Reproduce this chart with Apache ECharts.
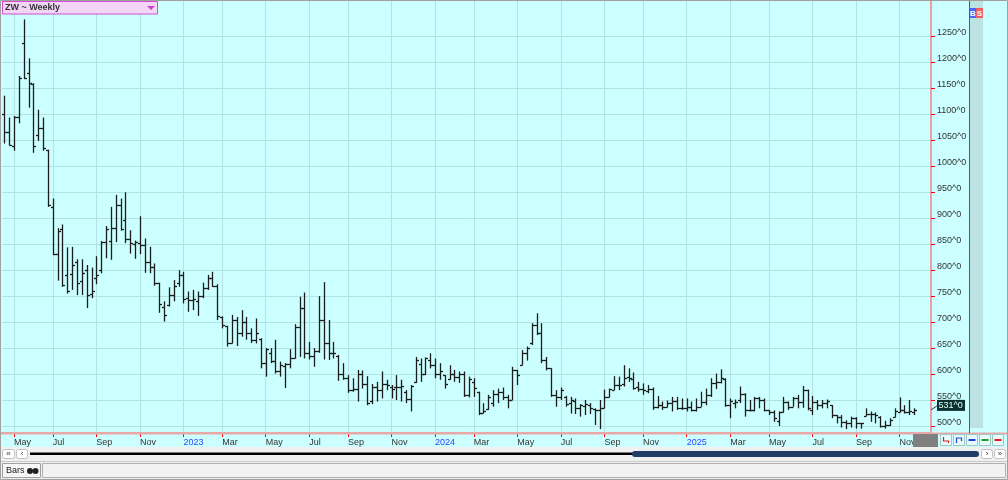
<!DOCTYPE html>
<html><head><meta charset="utf-8">
<script src="https://cdn.jsdelivr.net/npm/echarts@6/dist/echarts.min.js"></script>
<style>html,body{margin:0;padding:0;background:#fff;overflow:hidden}#c{width:1008px;height:480px}</style>
</head><body><div id="c"></div>
<script>
// ---- data (weekly bars, week ending Friday) ----
const firstWeek = '2022-04-22';
const weekCount = 192;
const opens = [
1100,1067,1040,1095,1237,1180,1159,1060,1073,1031,
922,832,880,790,792,815,780,800,755,785,
800,855,856,881,926,897,860,850,852,848,
815,806,775,730,733,752,775,790,746,742,
740,750,765,785,770,710,693,660,705,680,
700,680,665,668,622,640,625,605,615,620,
630,690,727,640,635,645,705,660,640,635,
600,593,570,572,600,580,548,575,570,580,
575,575,575,565,552,585,620,600,628,617,
600,598,590,600,595,600,560,585,566,525,
533,545,561,565,556,550,608,618,640,660,
694,680,628,611,560,556,556,545,548,535,
538,540,532,530,534,556,570,578,580,595,
590,575,572,568,572,537,540,537,544,548,
534,534,537,531,537,547,560,582,585,590,
540,545,550,561,530,531,553,550,530,527,
510,526,547,537,553,547,570,530,547,540,
545,540,521,518,508,505,515,505,520,524,
523,518,500,502,517,527,530,527,527];
const highs = [
1136,1094,1097,1174,1283,1208,1160,1109,1094,1032,
938,881,888,844,845,821,821,810,805,827,
856,885,922,945,938,950,877,857,904,861,
845,813,776,740,767,781,800,797,759,762,
759,776,791,797,773,711,693,714,710,723,
710,688,707,669,650,650,666,624,621,648,
696,749,757,662,650,750,777,704,662,637,
621,598,592,608,607,596,581,585,605,589,
579,598,589,569,579,633,630,632,640,630,
621,598,617,608,605,605,595,592,566,544,
560,569,572,574,560,614,608,646,653,698,
717,698,633,611,569,574,558,556,553,542,
550,544,534,550,570,572,596,595,617,611,
603,585,582,579,574,558,547,549,556,556,
553,553,547,553,566,572,592,601,609,592,
553,551,576,563,550,556,556,553,531,530,
528,556,547,556,560,577,570,558,550,550,
551,540,521,521,511,518,517,506,534,528,
526,519,510,515,534,555,540,550,534];
const lows = [
1044,1040,1030,1083,1168,1113,1026,1049,1030,922,
829,780,768,755,762,752,752,727,746,773,
794,823,820,854,876,852,832,822,831,795,
794,770,718,701,730,740,768,736,720,723,
712,746,762,768,704,688,653,659,654,672,
666,660,659,611,595,621,601,595,573,611,
630,633,630,628,614,641,628,627,630,587,
589,564,566,547,572,540,542,547,553,569,
553,550,547,544,528,583,585,598,611,592,
589,572,589,585,583,556,555,556,521,524,
531,537,544,550,534,550,579,617,626,656,
675,621,607,556,537,550,537,524,523,518,
521,523,502,494,534,555,569,569,576,585,
570,566,560,563,531,534,531,536,528,531,
531,528,528,528,537,540,556,571,582,537,
515,534,544,518,528,528,534,528,521,508,
500,526,531,537,534,535,530,521,531,534,
534,515,505,497,494,497,495,495,519,508,
505,497,495,500,517,526,524,521,521];
const closes = [
1067,1042,1095,1170,1170,1160,1040,1073,1035,925,
832,876,772,760,810,775,795,752,760,790,
855,880,881,925,880,860,852,855,848,816,
806,775,735,714,752,770,790,745,742,745,
750,765,785,770,712,695,660,705,680,700,
680,665,680,622,648,625,605,617,620,630,
690,727,640,635,645,705,660,640,640,600,
593,570,572,600,580,545,575,570,580,578,
572,575,577,552,577,628,600,630,617,600,
605,580,600,595,600,560,590,574,525,528,
555,561,565,556,550,608,598,640,650,694,
680,628,611,560,556,569,542,550,535,540,
542,534,531,534,556,572,579,579,592,592,
574,572,569,572,537,540,537,544,548,534,
534,537,531,537,547,560,582,585,592,540,
548,547,561,530,531,553,550,531,527,515,
526,547,537,553,547,570,535,547,540,545,
548,521,518,508,505,515,505,505,524,523,
521,500,502,511,528,530,527,528,531];
const priceTicks = [500,550,600,650,700,750,800,850,900,950,1000,1050,1100,1150,1200,1250];
const monthNames = ['Jan','Feb','Mar','Apr','May','Jun','Jul','Aug','Sep','Oct','Nov','Dec'];
const titleText = 'ZW ~ Weekly';

// ---- derived ----
const weekDates = [];
{
  const t0 = Date.parse(firstWeek + 'T00:00:00Z');
  for (let i = 0; i < weekCount; i++) weekDates.push(new Date(t0 + i * 7 * 86400000).toISOString().slice(0, 10));
}
const ohlc = opens.map((o, i) => [i, o, highs[i], lows[i], closes[i]]);
function isLabelWeek(idx, val) {
  const v = val || weekDates[idx];
  const m = +v.slice(5, 7) - 1, d = +v.slice(8, 10);
  return d <= 7 && m % 2 === 0;
}
function fmtDate(val) {
  const m = +val.slice(5, 7) - 1;
  return m === 0 ? '{yr|' + val.slice(0, 4) + '}' : monthNames[m];
}
const FONT = 'Liberation Sans, Arial, sans-serif';
const GRID = '#b2e2e2';

const chart = echarts.init(document.getElementById('c'), null, {renderer: 'canvas'});

function crisp(v) { return Math.round(v) + 0.5; }

const baseGraphics = [
  // right strip
  {type: 'rect', z: 0, silent: true, shape: {x: 970, y: 0, width: 13, height: 428}, style: {fill: '#bde2e2'}},
  {type: 'line', z: 10, silent: true, shape: {x1: 969.5, y1: 0, x2: 969.5, y2: 433}, style: {stroke: '#e02020', lineWidth: 1}},
  {type: 'rect', z: 10, shape: {x: 970, y: 8, width: 6, height: 10}, style: {fill: '#4a66ff'}},
  {type: 'text', z: 11, style: {x: 973, y: 13.5, text: 'B', fill: '#fff', font: 'bold 8px ' + FONT, align: 'center', verticalAlign: 'middle'}},
  {type: 'rect', z: 10, shape: {x: 976, y: 8, width: 7, height: 10}, style: {fill: '#f06060'}},
  {type: 'text', z: 11, style: {x: 979.5, y: 13.5, text: 'S', fill: '#fff', font: 'bold 8px ' + FONT, align: 'center', verticalAlign: 'middle'}},
  // full-width pink base line
  {type: 'line', z: 9, silent: true, shape: {x1: 0, y1: 433.5, x2: 1008, y2: 433.5}, style: {stroke: '#e8a8a8', lineWidth: 2}},
  // title box
  {type: 'rect', z: 20, shape: {x: 2.5, y: 1.5, width: 155, height: 12.5}, style: {fill: '#f3d6f7', stroke: '#d050d0', lineWidth: 1}},
  {type: 'text', z: 21, style: {x: 5, y: 8, text: titleText, fill: '#333', font: 'bold 9px ' + FONT, verticalAlign: 'middle'}},
  {type: 'polygon', z: 21, shape: {points: [[147, 6], [155, 6], [151, 10]]}, style: {fill: '#d040c8'}},
  // bottom-right gray box
  {type: 'rect', z: 10, shape: {x: 913, y: 434, width: 25, height: 13}, style: {fill: '#808080'}},
  // lower panels
  {type: 'rect', z: 10, shape: {x: 0, y: 447, width: 1008, height: 33}, style: {fill: '#f0f0f0'}},
  {type: 'rect', z: 11, shape: {x: 2.5, y: 449.5, width: 12, height: 9, r: 2}, style: {fill: '#fff', stroke: '#c0c0c0'}},
  {type: 'text', z: 12, style: {x: 8.5, y: 454, text: '«', fill: '#333', font: '8px ' + FONT, align: 'center', verticalAlign: 'middle'}},
  {type: 'rect', z: 11, shape: {x: 16.5, y: 449.5, width: 11, height: 9, r: 2}, style: {fill: '#fff', stroke: '#c0c0c0'}},
  {type: 'text', z: 12, style: {x: 22, y: 454, text: '‹', fill: '#333', font: '8px ' + FONT, align: 'center', verticalAlign: 'middle'}},
  {type: 'rect', z: 11, shape: {x: 30, y: 452.5, width: 603, height: 2.5}, style: {fill: '#000'}},
  {type: 'rect', z: 12, shape: {x: 632, y: 451, width: 347, height: 6, r: 3}, style: {fill: '#1f3d66'}},
  {type: 'rect', z: 11, shape: {x: 981.5, y: 449.5, width: 11, height: 9, r: 2}, style: {fill: '#fff', stroke: '#c0c0c0'}},
  {type: 'text', z: 12, style: {x: 987, y: 454, text: '›', fill: '#333', font: '8px ' + FONT, align: 'center', verticalAlign: 'middle'}},
  {type: 'rect', z: 11, shape: {x: 994.5, y: 449.5, width: 11, height: 9, r: 2}, style: {fill: '#fff', stroke: '#c0c0c0'}},
  {type: 'text', z: 12, style: {x: 1000, y: 454, text: '»', fill: '#333', font: '8px ' + FONT, align: 'center', verticalAlign: 'middle'}},
  {type: 'line', z: 11, shape: {x1: 0, y1: 461.5, x2: 1008, y2: 461.5}, style: {stroke: '#c8c8c8', lineWidth: 1}},
  {type: 'rect', z: 11, shape: {x: 42.5, y: 463.5, width: 963, height: 14}, style: {fill: '#f2f2f2', stroke: '#b0b0b0'}},
  {type: 'rect', z: 11, shape: {x: 2.5, y: 463.5, width: 38, height: 14}, style: {fill: '#f6f6f6', stroke: '#a0a0a0'}},
  {type: 'text', z: 12, style: {x: 6, y: 471, text: 'Bars', fill: '#222', font: '9px ' + FONT, verticalAlign: 'middle'}},
  {type: 'circle', z: 12, shape: {cx: 30, cy: 471, r: 3}, style: {fill: '#222'}},
  {type: 'circle', z: 12, shape: {cx: 35.5, cy: 471, r: 3}, style: {fill: '#222'}},
  // outer frame
  {type: 'rect', z: 30, silent: true, shape: {x: 0.5, y: 0.5, width: 1007, height: 479}, style: {fill: 'none', stroke: '#a0a0a0', lineWidth: 1}}
];
// small view buttons
const btnColors = ['#e02020', '#2040e0', '#2040e0', '#20a020', '#e02020'];
btnColors.forEach((c, k) => {
  const bx = 940.5 + k * 13;
  baseGraphics.push({type: 'rect', z: 11, shape: {x: bx, y: 434.5, width: 11, height: 11}, style: {fill: '#e6fafa', stroke: '#9cc8c8'}});
  baseGraphics.push({type: 'polyline', z: 12, shape: {points: k === 0 ? [[bx + 3, 437], [bx + 3, 441], [bx + 8, 441], [bx + 8, 443]] : k === 1 ? [[bx + 3, 443], [bx + 3, 438], [bx + 8, 438], [bx + 8, 441]] : [[bx + 2, 440], [bx + 9, 440]]}, style: {stroke: c, lineWidth: k > 1 ? 2 : 1.2, fill: 'none'}});
});

const option = {
  animation: false,
  backgroundColor: '#ccffff',
  grid: {left: 2, right: 77, top: 0, bottom: 47},
  xAxis: {
    type: 'category', data: weekDates, boundaryGap: true,
    axisLine: {show: true, lineStyle: {color: '#e8a8a8', width: 2}},
    axisTick: {show: true, alignWithLabel: true, interval: isLabelWeek, length: 4, lineStyle: {color: '#ff0000'}},
    axisLabel: {interval: isLabelWeek, formatter: fmtDate, align: 'left', margin: 5, fontSize: 9, fontFamily: FONT, color: '#333',
      rich: {yr: {color: '#3344ff', fontSize: 9, fontFamily: FONT}}},
    splitLine: {show: true, alignWithLabel: true, interval: isLabelWeek, lineStyle: {color: GRID, width: 1}}
  },
  yAxis: {
    type: 'value', position: 'right', min: 486.5, max: 1320.3,
    axisLine: {show: true, lineStyle: {color: '#e8a0a0', width: 2}},
    axisTick: {show: true, length: 4, customValues: priceTicks, lineStyle: {color: '#ff0000'}},
    axisLabel: {customValues: priceTicks, formatter: v => v + '^0', fontSize: 9, fontFamily: FONT, color: '#333', margin: 6,
      verticalAlign: 'bottom', lineHeight: 7},
    splitLine: {show: true, lineStyle: {color: GRID, width: 1}}
  },
  series: [{
    type: 'custom',
    data: ohlc,
    encode: {x: 0, y: [1, 2, 3, 4]},
    clip: true,
    renderItem: function (params, api) {
      const idx = api.value(0);
      const x = crisp(api.coord([idx, api.value(2)])[0]);
      const yO = crisp(api.coord([idx, api.value(1)])[1]);
      const yH = api.coord([idx, api.value(2)])[1];
      const yL = api.coord([idx, api.value(3)])[1];
      const yC = crisp(api.coord([idx, api.value(4)])[1]);
      const st = {stroke: '#1c1c1c', lineWidth: 1.3};
      return {type: 'group', children: [
        {type: 'line', shape: {x1: x, y1: yH, x2: x, y2: yL}, style: st},
        {type: 'line', shape: {x1: x - 2.5, y1: yO, x2: x, y2: yO}, style: st},
        {type: 'line', shape: {x1: x, y1: yC, x2: x + 2.5, y2: yC}, style: st}
      ]};
    }
  }],
  graphic: baseGraphics
};
chart.setOption(option);

// last-price marker positioned through the value axis
const lastClose = closes[closes.length - 1];
const yLast = chart.convertToPixel({yAxisIndex: 0}, lastClose);
option.graphic = baseGraphics.concat([
  {type: 'line', z: 20, shape: {x1: 931, y1: yLast, x2: 937, y2: yLast - 4}, style: {stroke: '#333', lineWidth: 1}},
  {type: 'rect', z: 20, shape: {x: 937, y: yLast - 10, width: 28, height: 11}, style: {fill: '#0b3030'}},
  {type: 'text', z: 21, style: {x: 938.5, y: yLast - 4.3, text: lastClose + '^0', fill: '#e8ffff', font: '9px ' + FONT, verticalAlign: 'middle'}}
]);
chart.setOption(option, true);
</script>
</body></html>
